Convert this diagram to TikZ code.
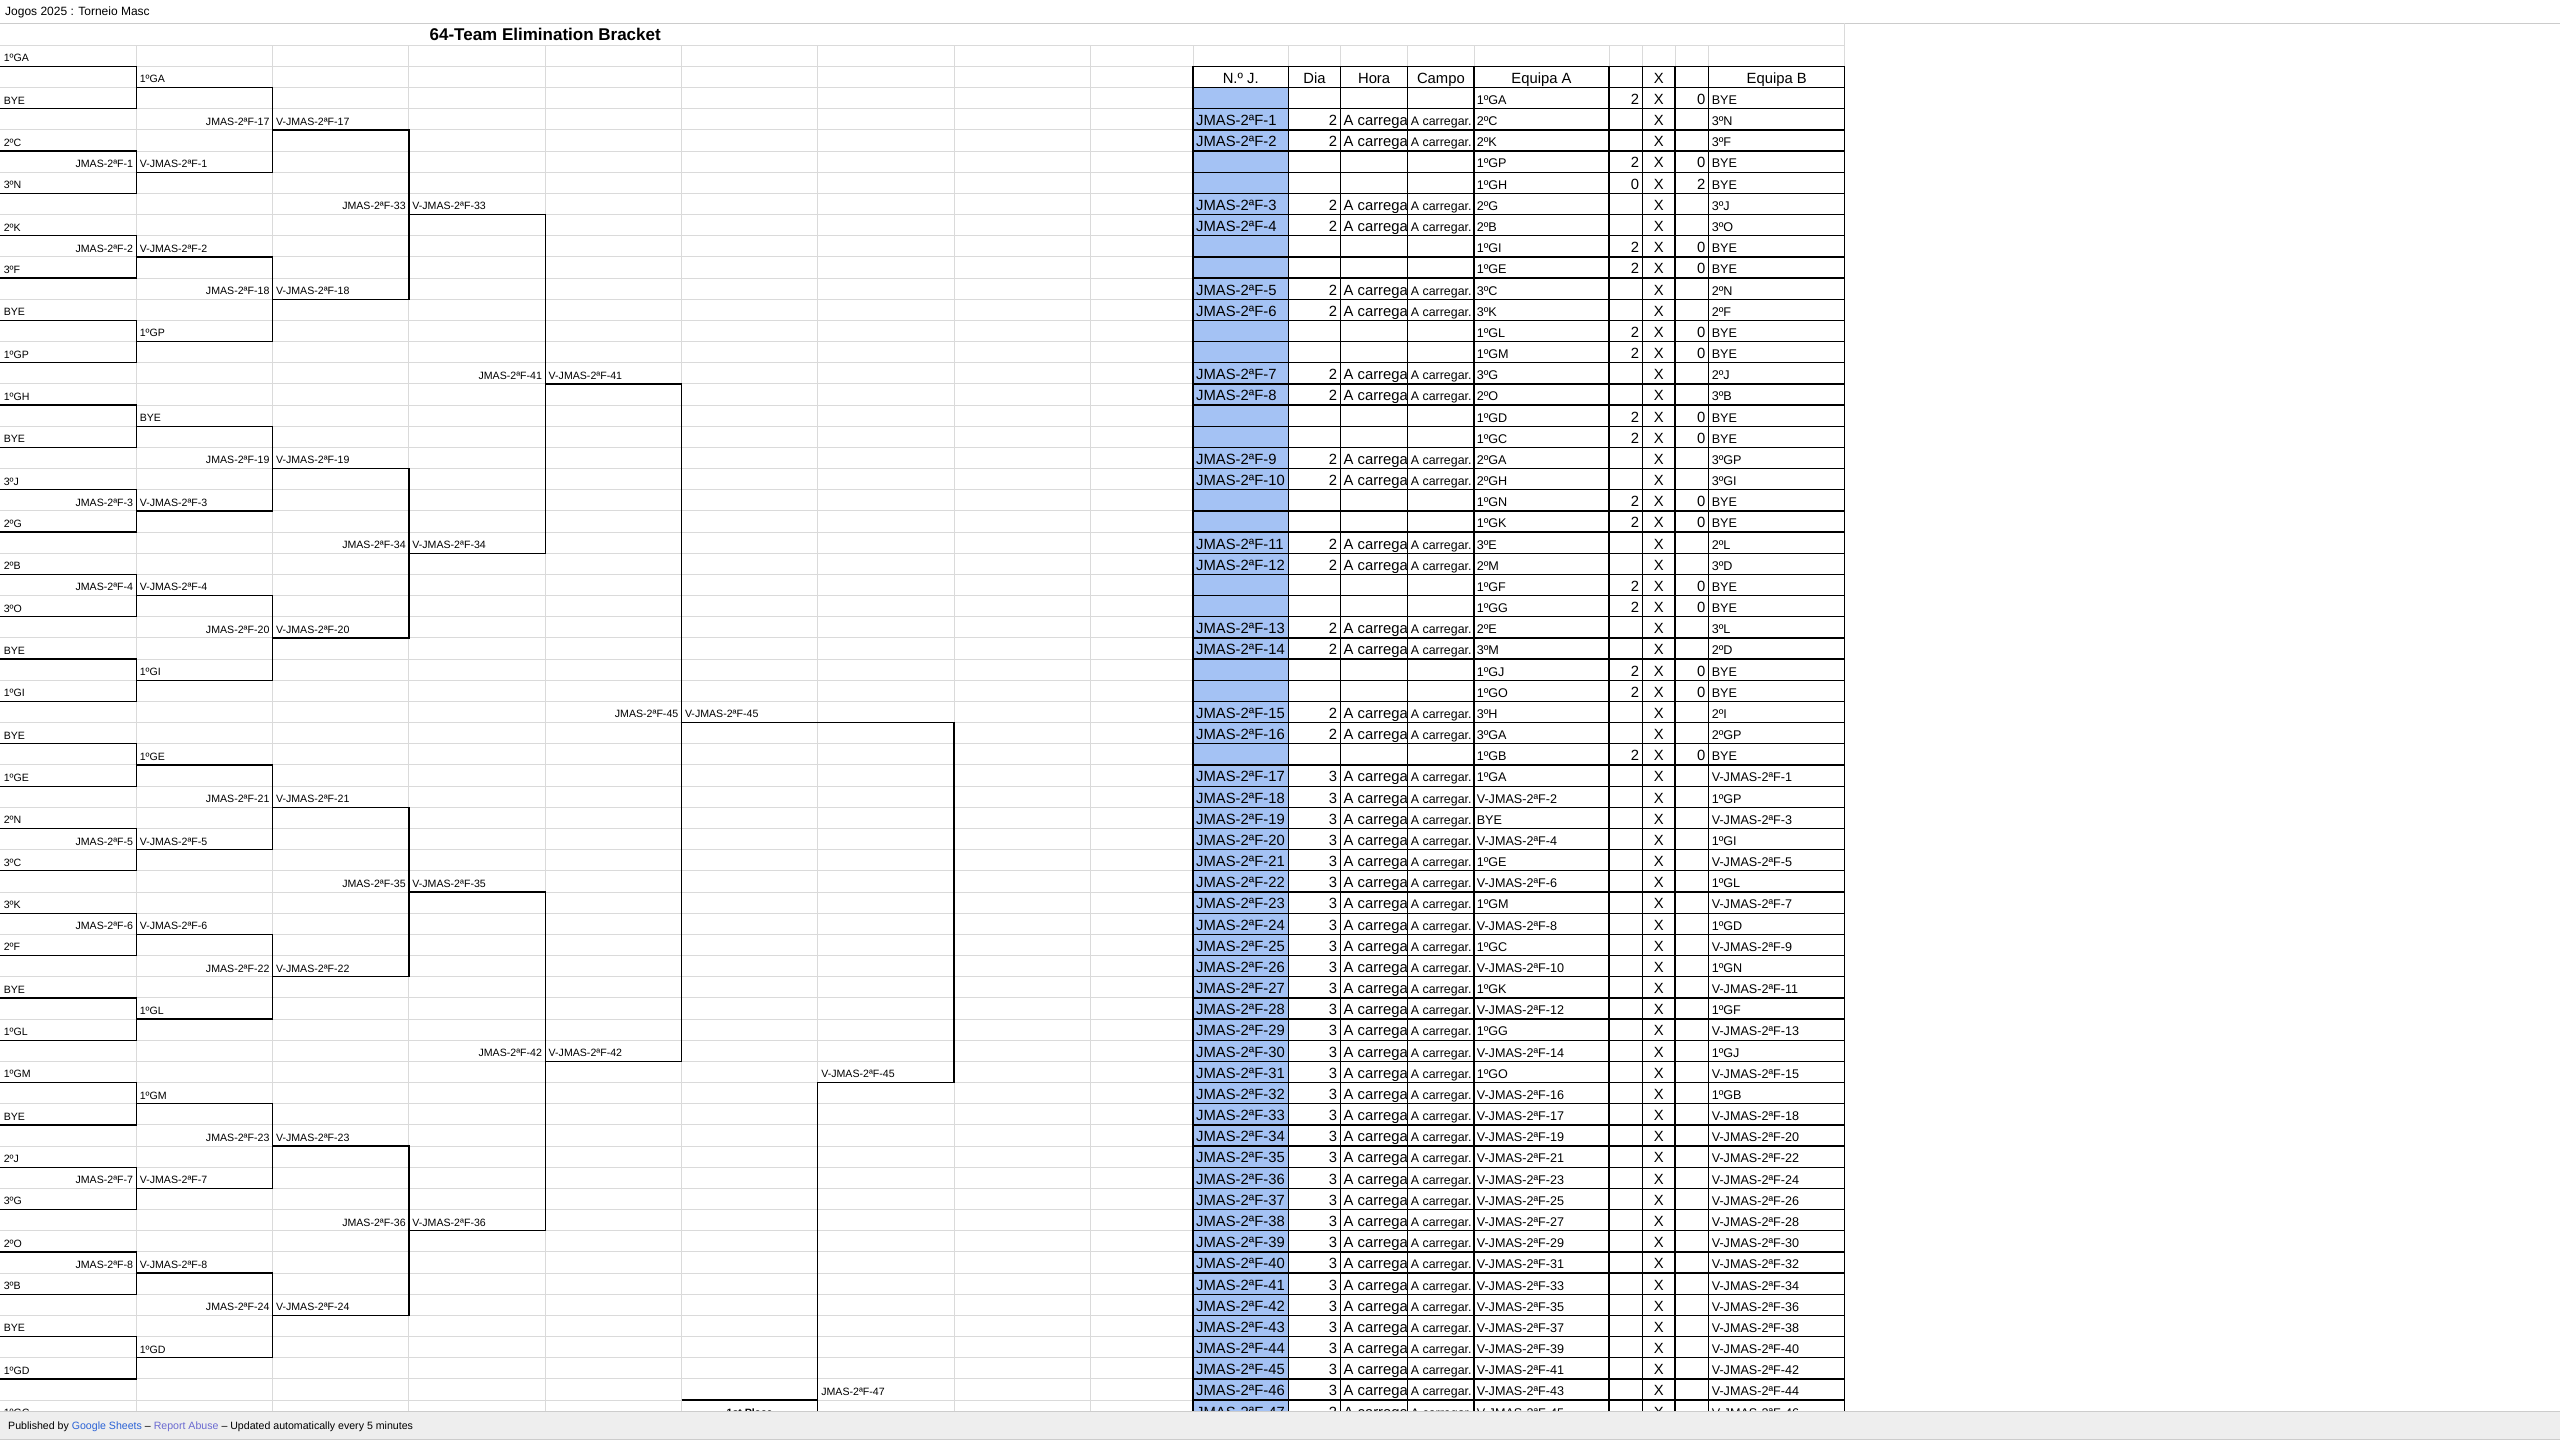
\documentclass[tikz,border=0pt]{standalone}
\usepackage{fontspec}
\setmainfont{Liberation Sans}

\definecolor{gridgray}{HTML}{DADADA}
\definecolor{topgray}{HTML}{CCCCCC}
\definecolor{cellblue}{HTML}{A4C2F4}
\definecolor{footgray}{HTML}{EEEEEE}
\definecolor{sheetsblue}{HTML}{2A62D6}
\definecolor{abuseblue}{HTML}{6B6BD1}

\newcommand{\brfont}{\fontsize{10.6}{12}\selectfont}
\newcommand{\tbfont}{\fontsize{14.8}{16}\selectfont}
\newcommand{\eqfont}{\fontsize{12.6}{14}\selectfont}
\newcommand{\cpfont}{\fontsize{12.4}{14}\selectfont}

\tikzset{
  gridline/.style={draw=gridgray, line width=1pt},
  tabline/.style={draw=black, line width=1.3pt},
  brline/.style={draw=black, line width=1.3pt},
  team/.style={inner sep=0pt, anchor=base west, font=\brfont},
  match/.style={inner sep=0pt, anchor=base east, font=\brfont},
  tleft/.style={inner sep=0pt, anchor=base west, font=\tbfont},
  tright/.style={inner sep=0pt, anchor=base east, font=\tbfont},
  tmid/.style={inner sep=0pt, anchor=base, font=\tbfont},
  eleft/.style={inner sep=0pt, anchor=base west, font=\eqfont},
  cleft/.style={inner sep=0pt, anchor=base west, font=\cpfont},
}

% one table row with a bye: row, team A, score A, score B, team B
\newcommand{\jbye}[5]{%
  \node[eleft] (ea#1) at (1476.6,#1+0.8) {#2};
  \node[tright] (sa#1) at (1639.4,#1+0.8) {#3};
  \node[tmid] (vs#1) at (1658.9,#1+0.8) {X};
  \node[tright] (sb#1) at (1705.6,#1+0.8) {#4};
  \node[eleft] (eb#1) at (1711.6,#1+0.8) {#5};}
% one table row with a game: row, number, day, team A, team B
\newcommand{\jgame}[5]{%
  \node[tleft] (num#1) at (1196,#1+0.8) {JMAS-2ªF-#2};
  \node[tright] (dia#1) at (1337.4,#1+0.8) {#3};
  \node[tleft] (hora#1) at (1343.5,#1+0.8) {A carrega};
  \node[cleft] (campo#1) at (1410.7,#1+0.8) {A carregar.};
  \node[eleft] (ea#1) at (1476.6,#1+0.8) {#4};
  \node[tmid] (vs#1) at (1658.9,#1+0.8) {X};
  \node[eleft] (eb#1) at (1711.6,#1+0.8) {#5};}

\begin{document}
\begin{tikzpicture}[x=1pt,y=-21.17pt]
\useasboundingbox (0pt,0pt) rectangle (2560pt,-1440pt);
\fill[white] (0pt,0pt) rectangle (2560pt,-1440pt);
\clip (0pt,0pt) rectangle (2560pt,-1440pt);

% sheet header
\node[anchor=base west, inner sep=0pt, font=\fontsize{12}{14}\selectfont] (sheet) at (5pt,-15.5pt) {Jogos 2025 : Torneio Masc};
\draw[draw=topgray, line width=1pt] (0pt,-23.3pt) -- (2560pt,-23.3pt);
\node[anchor=base, inner sep=0pt, font=\bfseries\fontsize{17}{20}\selectfont] (title) at (545.2pt,-40pt) {64-Team Elimination Bracket};

\begin{scope}[yshift=-45.2pt]
% cell grid
\foreach \j in {0,...,66} \draw[gridline] (0,\j) -- (1844.7,\j);
\foreach \c in {1,...,8} \draw[gridline] ({136.3*\c},0) -- ({136.3*\c},67);
\foreach \x in {1193,1288.4,1340.5,1407.7,1474,1609,1642.7,1675,1708.6}
  \draw[gridline] (\x,0) -- (\x,67);
\draw[gridline] (1844.7,-1.034) -- (1844.7,67);

% games table
\fill[cellblue] (1193,2) rectangle (1288.4,67);
\foreach \j in {1,...,66} \draw[tabline] (1193,\j) -- (1844.7,\j);
\foreach \x in {1193,1288.4,1340.5,1407.7,1474,1609,1642.7,1675,1708.6,1844.7}
  \draw[tabline] (\x,1) -- (\x,67);

\node[tmid] (hnum) at (1240.7,1.8) {N.º J.};
\node[tmid] (hdia) at (1314.5,1.8) {Dia};
\node[tmid] (hhora) at (1374.1,1.8) {Hora};
\node[tmid] (hcampo) at (1440.9,1.8) {Campo};
\node[tmid] (hea) at (1541.5,1.8) {Equipa A};
\node[tmid] (hvs) at (1658.9,1.8) {X};
\node[tmid] (heb) at (1776.7,1.8) {Equipa B};

\jbye{2}{1ºGA}{2}{0}{BYE}
\jgame{3}{1}{2}{2ºC}{3ºN}
\jgame{4}{2}{2}{2ºK}{3ºF}
\jbye{5}{1ºGP}{2}{0}{BYE}
\jbye{6}{1ºGH}{0}{2}{BYE}
\jgame{7}{3}{2}{2ºG}{3ºJ}
\jgame{8}{4}{2}{2ºB}{3ºO}
\jbye{9}{1ºGI}{2}{0}{BYE}
\jbye{10}{1ºGE}{2}{0}{BYE}
\jgame{11}{5}{2}{3ºC}{2ºN}
\jgame{12}{6}{2}{3ºK}{2ºF}
\jbye{13}{1ºGL}{2}{0}{BYE}
\jbye{14}{1ºGM}{2}{0}{BYE}
\jgame{15}{7}{2}{3ºG}{2ºJ}
\jgame{16}{8}{2}{2ºO}{3ºB}
\jbye{17}{1ºGD}{2}{0}{BYE}
\jbye{18}{1ºGC}{2}{0}{BYE}
\jgame{19}{9}{2}{2ºGA}{3ºGP}
\jgame{20}{10}{2}{2ºGH}{3ºGI}
\jbye{21}{1ºGN}{2}{0}{BYE}
\jbye{22}{1ºGK}{2}{0}{BYE}
\jgame{23}{11}{2}{3ºE}{2ºL}
\jgame{24}{12}{2}{2ºM}{3ºD}
\jbye{25}{1ºGF}{2}{0}{BYE}
\jbye{26}{1ºGG}{2}{0}{BYE}
\jgame{27}{13}{2}{2ºE}{3ºL}
\jgame{28}{14}{2}{3ºM}{2ºD}
\jbye{29}{1ºGJ}{2}{0}{BYE}
\jbye{30}{1ºGO}{2}{0}{BYE}
\jgame{31}{15}{2}{3ºH}{2ºI}
\jgame{32}{16}{2}{3ºGA}{2ºGP}
\jbye{33}{1ºGB}{2}{0}{BYE}
\jgame{34}{17}{3}{1ºGA}{V-JMAS-2ªF-1}
\jgame{35}{18}{3}{V-JMAS-2ªF-2}{1ºGP}
\jgame{36}{19}{3}{BYE}{V-JMAS-2ªF-3}
\jgame{37}{20}{3}{V-JMAS-2ªF-4}{1ºGI}
\jgame{38}{21}{3}{1ºGE}{V-JMAS-2ªF-5}
\jgame{39}{22}{3}{V-JMAS-2ªF-6}{1ºGL}
\jgame{40}{23}{3}{1ºGM}{V-JMAS-2ªF-7}
\jgame{41}{24}{3}{V-JMAS-2ªF-8}{1ºGD}
\jgame{42}{25}{3}{1ºGC}{V-JMAS-2ªF-9}
\jgame{43}{26}{3}{V-JMAS-2ªF-10}{1ºGN}
\jgame{44}{27}{3}{1ºGK}{V-JMAS-2ªF-11}
\jgame{45}{28}{3}{V-JMAS-2ªF-12}{1ºGF}
\jgame{46}{29}{3}{1ºGG}{V-JMAS-2ªF-13}
\jgame{47}{30}{3}{V-JMAS-2ªF-14}{1ºGJ}
\jgame{48}{31}{3}{1ºGO}{V-JMAS-2ªF-15}
\jgame{49}{32}{3}{V-JMAS-2ªF-16}{1ºGB}
\foreach \n in {33,...,47}{
  \pgfmathtruncatemacro\rw{\n+17}
  \pgfmathtruncatemacro\va{2*\n-49}
  \pgfmathtruncatemacro\vb{2*\n-48}
  \jgame{\rw}{\n}{3}{V-JMAS-2ªF-\va}{V-JMAS-2ªF-\vb}
}

% bracket lines
\foreach \col/\npairs in {0/17,1/8,2/4,3/2}{
  \pgfmathtruncatemacro\half{2^\col}
  \pgfmathsetmacro\xa{136.3*\col}
  \pgfmathsetmacro\xb{136.3*(\col+1)}
  \pgfmathsetmacro\xc{136.3*(\col+2)}
  \foreach \m in {1,...,\npairs}{
    \pgfmathtruncatemacro\ya{\half+4*\half*(\m-1)}
    \pgfmathtruncatemacro\yb{\ya+2*\half}
    \pgfmathtruncatemacro\ym{\ya+\half}
    \draw[brline] (\xa,\ya) -| (\xb,\yb) -- (\xa,\yb);
    \draw[brline] (\xb,\ym) -- (\xc,\ym);
  }
}
\draw[brline] (545.2,16) -| (681.5,48) -- (545.2,48);
\draw[brline] (681.5,32) -- (954.1,32) -- (954.1,49) -- (817.8,49) -- (817.8,67);
\draw[brline] (681.5,64) -- (817.8,64);

% bracket texts
\foreach \t [count=\i from 0] in {1ºGA,BYE,2ºC,3ºN,2ºK,3ºF,BYE,1ºGP,1ºGH,BYE,3ºJ,2ºG,2ºB,3ºO,BYE,1ºGI,
    BYE,1ºGE,2ºN,3ºC,3ºK,2ºF,BYE,1ºGL,1ºGM,BYE,2ºJ,3ºG,2ºO,3ºB,BYE,1ºGD,1ºGC}
  \node[team] (ra-\i) at (3.6,2*\i+0.78) {\t};
\foreach \rw/\n in {5/1,9/2,21/3,25/4,37/5,41/6,53/7,57/8}
  \node[match] (ma-\n) at (133.3,\rw+0.78) {JMAS-2ªF-\n};
\foreach \t [count=\i from 0] in {1ºGA,V-JMAS-2ªF-1,V-JMAS-2ªF-2,1ºGP,BYE,V-JMAS-2ªF-3,V-JMAS-2ªF-4,1ºGI,
    1ºGE,V-JMAS-2ªF-5,V-JMAS-2ªF-6,1ºGL,1ºGM,V-JMAS-2ªF-7,V-JMAS-2ªF-8,1ºGD}
  \node[team] (rb-\i) at (139.6,4*\i+1.78) {\t};
\foreach \s in {0,...,7}{
  \pgfmathtruncatemacro\n{17+\s}
  \node[match] (ma-\n) at (269.6,8*\s+3.78) {JMAS-2ªF-\n};
  \node[team] (rc-\n) at (275.9,8*\s+3.78) {V-JMAS-2ªF-\n};
}
\foreach \s in {0,...,3}{
  \pgfmathtruncatemacro\n{33+\s}
  \node[match] (ma-\n) at (405.9,16*\s+7.78) {JMAS-2ªF-\n};
  \node[team] (rd-\n) at (412.2,16*\s+7.78) {V-JMAS-2ªF-\n};
}
\foreach \s in {0,1}{
  \pgfmathtruncatemacro\n{41+\s}
  \node[match] (ma-\n) at (542.2,32*\s+15.78) {JMAS-2ªF-\n};
  \node[team] (re-\n) at (548.5,32*\s+15.78) {V-JMAS-2ªF-\n};
}
\node[match] (ma-45) at (678.5,31.78) {JMAS-2ªF-45};
\node[team] (rf-45) at (684.8,31.78) {V-JMAS-2ªF-45};
\node[team] (rg-45) at (821.1,48.78) {V-JMAS-2ªF-45};
\node[team] (ma-47) at (821.1,63.78) {JMAS-2ªF-47};
\node[inner sep=0pt, anchor=base, font=\bfseries\brfont] (first) at (749.6,64.78) {1st Place};
\end{scope}

% footer
\fill[footgray] (0pt,-1411pt) rectangle (2560pt,-1440pt);
\draw[draw=topgray, line width=1pt] (0pt,-1411pt) -- (2560pt,-1411pt);
\draw[draw=topgray, line width=1pt] (0pt,-1439.5pt) -- (2560pt,-1439.5pt);
\node[anchor=base west, inner sep=0pt, font=\brfont] (foot) at (8pt,-1429.5pt)
  {Published by \textcolor{sheetsblue}{Google Sheets} – \textcolor{abuseblue}{Report Abuse} – Updated automatically every 5 minutes};
\end{tikzpicture}
\end{document}
